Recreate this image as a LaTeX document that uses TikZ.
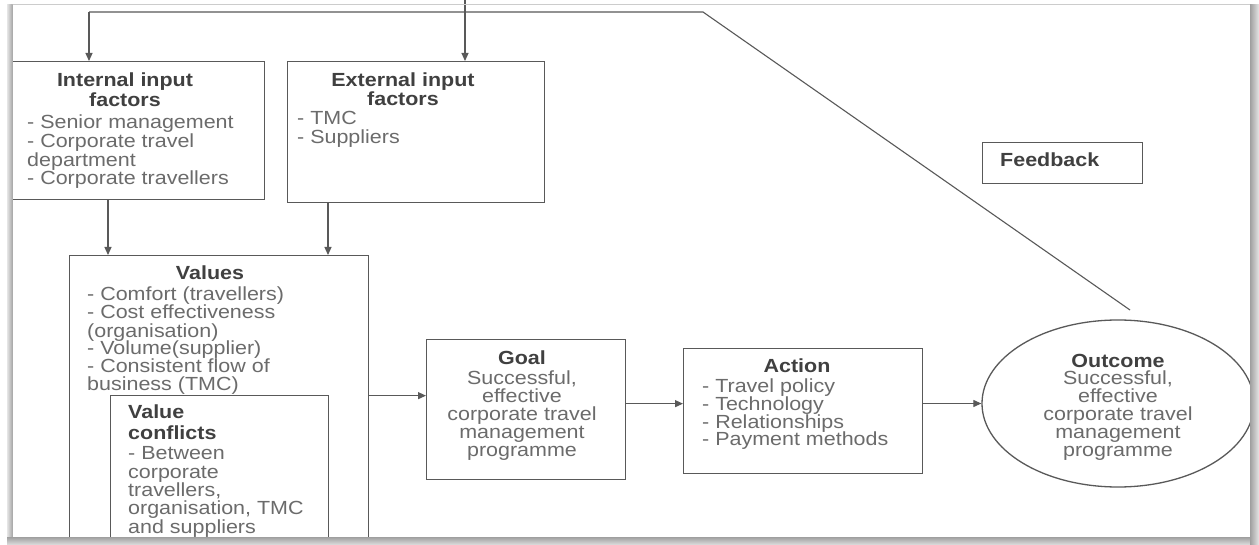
\documentclass[tikz,border=0pt]{standalone}
\usepackage{fontspec}
\setmainfont{Liberation Sans}[FakeStretch=1.13]
\usetikzlibrary{arrows.meta,calc,shapes.geometric}
\definecolor{lnc}{gray}{0.35}
\definecolor{txc}{gray}{0.42}
\definecolor{hdc}{gray}{0.25}
\newcommand\tightls{\lineskiplimit=-100pt\relax\lineskip=0pt\relax}
\lineskiplimit=-100pt\relax
\lineskip=0pt\relax
\begin{document}
\begin{tikzpicture}[x=1pt,y=-1pt,
  box/.style={draw=lnc, line width=1.3pt, rectangle, inner sep=0pt, anchor=north west},
  arr/.style={draw=lnc, line width=1.1pt, -{Triangle[length=8pt,width=7pt]}},
  conn/.style={draw=lnc, line width=1.1pt},
  tt/.style={inner sep=0pt, text=txc, font=\fontsize{19}{#1}\selectfont\tightls},
  hh/.style={inner sep=0pt, text=hdc, font=\fontsize{19}{#1}\selectfont\bfseries\tightls}
]
\clip (0,0) rectangle (1259,545);
\fill[white] (0,0) rectangle (1259,545);

% boxes
\node[box, minimum width=254pt, minimum height=138pt] (int) at (10,61) {};
\node[box, minimum width=257pt, minimum height=141pt] (ext) at (287,61) {};
\node[box, minimum width=299pt, minimum height=320pt] (val) at (69,255) {};
\node[box, minimum width=218pt, minimum height=180pt] (vc) at (110,395) {};
\node[box, minimum width=199pt, minimum height=140pt] (goal) at (426,339) {};
\node[box, minimum width=239pt, minimum height=125pt] (act) at (683,348) {};
\node[box, minimum width=160pt, minimum height=41pt] (fb) at (982,142) {};
\node[draw=lnc, line width=1.3pt, ellipse, inner sep=0pt, minimum width=272pt, minimum height=167pt] (out) at (1118,403.5) {};

% texts (multi-line nodes: base anchor = baseline of last line)
\node[hh=20, align=center, anchor=base] (intH) at (125,107) {Internal input\\factors};
\node[tt=18.7, align=left, anchor=base west] (intL) at (27,185) {- Senior management\\- Corporate travel\\department\\- Corporate travellers};
\node[hh=19, align=center, anchor=base] (extH) at (403,106) {External input\\factors};
\node[tt=19, align=left, anchor=base west] (extL) at (297,144) {- TMC\\- Suppliers};
\node[hh=20, anchor=base] (valH) at (210,280) {Values};
\node[tt=18, align=left, anchor=base west] (valL) at (87,391) {- Comfort (travellers)\\- Cost effectiveness\\(organisation)\\- Volume(supplier)\\- Consistent flow of\\business (TMC)};
\node[hh=21, align=left, anchor=base west] (vcH) at (128,439) {Value\\conflicts};
\node[tt=18.3, align=left, anchor=base west] (vcL) at (128,533) {- Between\\corporate\\travellers,\\organisation, TMC\\and suppliers};
\node[hh=20, anchor=base] (goalH) at (522,365) {Goal};
\node[tt=17.8, align=center, anchor=base] (goalL) at (522,456) {Successful,\\effective\\corporate travel\\management\\programme};
\node[hh=20, anchor=base] (actH) at (797,373) {Action};
\node[tt=17.7, align=left, anchor=base west] (actL) at (702,446) {- Travel policy\\- Technology\\- Relationships\\- Payment methods};
\node[hh=20, anchor=base] (outH) at (1118,367) {Outcome};
\node[tt=17.8, align=center, anchor=base] (outL) at (1118,456) {Successful,\\effective\\corporate travel\\management\\programme};
\node[hh=20, anchor=base west] (fbT) at (1000,167) {Feedback};

% feedback loop
\coordinate (fbtop) at (465,0);
\coordinate (fb1) at (89,12);
\coordinate (fb2) at (465,12);
\coordinate (fbc) at (703,12);
\coordinate (fbend) at (1130,310);
\draw[conn] (fb1) -- (fbc) -- (fbend);
\draw[conn] (fbtop) -- (fb2);
\draw[arr] (fb1) -- (fb1 |- int.north);
\draw[arr] (fb2) -- (fb2 |- ext.north);

% flow arrows
\coordinate (a1) at ($(int.south west)+(98,0)$);
\coordinate (a2) at ($(ext.south west)+(41,0)$);
\coordinate (a3) at ($(goal.west)+(0,-14)$);
\coordinate (a4) at ($(act.west)+(0,-7.5)$);
\draw[arr] (a1) -- (a1 |- val.north);
\draw[arr] (a2) -- (a2 |- val.north);
\draw[arr] (a3 -| val.east) -- (a3);
\draw[arr] (a4 -| goal.east) -- (a4);
\draw[arr] (act.east |- out.west) -- (out.west);

% screenshot frame
\draw[gray!40, line width=1pt] (11,4.5) -- (1259,4.5);
\shade[left color=gray!20, right color=gray!70] (7,4.5) rectangle (12.5,545);
\shade[top color=gray!75, bottom color=gray!25] (7,537) rectangle (1259,545);
\shade[left color=gray!75, right color=gray!20] (1250,4.5) rectangle (1259,545);
\end{tikzpicture}
\end{document}
